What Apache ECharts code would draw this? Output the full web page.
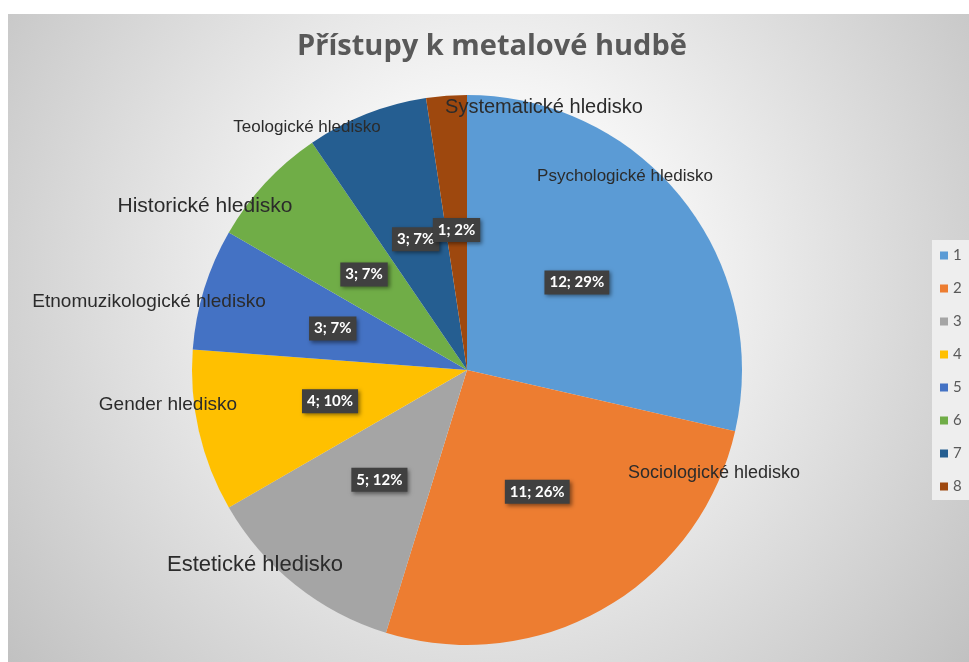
<!DOCTYPE html>
<html>
<head>
<meta charset="utf-8">
<script src="https://cdn.jsdelivr.net/npm/echarts@6/dist/echarts.min.js"></script>
<style>
  html, body { margin: 0; padding: 0; background: #ffffff; }
  #chart { width: 969px; height: 662px; }
</style>
</head>
<body>
<div id="chart"></div>
<script>
// legend entries (Excel shows the row numbers there)
const legendNames = ['1', '2', '3', '4', '5', '6', '7', '8'];
const categories = [
  'Psychologické hledisko',
  'Sociologické hledisko',
  'Estetické hledisko',
  'Gender hledisko',
  'Etnomuzikologické hledisko',
  'Historické hledisko',
  'Teologické hledisko',
  'Systematické hledisko'
];
const counts = [12, 11, 5, 4, 3, 3, 3, 1];

// office palette
const colors = ['#5B9BD5', '#ED7D31', '#A5A5A5', '#FFC000', '#4472C4', '#70AD47', '#255E91', '#9E480E'];

// where the (hand moved) category labels sit, and their size
const nameLabelPos = [[625, 176], [714, 473], [255, 565], [168, 405], [149, 302], [205, 206], [307, 127], [544, 107]];
const nameLabelSize = [17, 18, 22, 19, 19, 21, 17, 20];

const chart = echarts.init(document.getElementById('chart'));

const option = {
  animation: false,
  color: colors,
  title: {
    text: 'Přístupy k metalové hudbě',
    left: 487,
    top: 27,
    textAlign: 'center',
    textStyle: {
      fontFamily: 'Open Sans',
      fontWeight: 'bold',
      fontSize: 29,
      color: '#595959'
    }
  },
  graphic: [
    {
      type: 'rect',
      z: -10,
      silent: true,
      shape: { x: 8, y: 14, width: 961, height: 648 },
      style: {
        fill: new echarts.graphic.RadialGradient(488, 280, 630, [
          { offset: 0, color: '#ffffff' },
          { offset: 0.3, color: '#f5f5f5' },
          { offset: 1, color: '#bfbfbf' }
        ], true)
      }
    }
  ],
  legend: {
    orient: 'vertical',
    left: 932,
    top: 240,
    icon: 'rect',
    itemWidth: 8,
    itemHeight: 8,
    itemGap: 18,
    padding: [8, 12, 6, 8],
    backgroundColor: '#eeeeee',
    data: legendNames,
    textStyle: { color: '#595959', fontSize: 15, fontFamily: 'Lato' }
  },
  series: [
    {
      type: 'pie',
      center: [467, 370],
      radius: 275,
      startAngle: 90,
      clockwise: true,
      avoidLabelOverlap: false,
      minShowLabelAngle: 0,
      data: legendNames.map((n, i) => ({ name: n, value: counts[i] })),
      itemStyle: { borderWidth: 0 },
      label: {
        show: true,
        position: 'inside',
        formatter: (p) => p.value + '; ' + Math.round(p.percent) + '%',
        color: '#ffffff',
        fontFamily: 'Lato',
        fontWeight: 'bold',
        fontSize: 15,
        backgroundColor: '#404040',
        padding: [5, 5, 4, 5],
        shadowColor: 'rgba(0,0,0,0.45)',
        shadowBlur: 4,
        shadowOffsetX: 2,
        shadowOffsetY: 2
      },
      labelLayout: { hideOverlap: false },
      labelLine: { show: false },
      emphasis: { disabled: true }
    },
    {
      // transparent copy, only carries the category name labels
      type: 'pie',
      center: [467, 370],
      radius: 275,
      startAngle: 90,
      silent: true,
      avoidLabelOverlap: false,
      data: legendNames.map((n, i) => ({
        name: n,
        value: counts[i],
        itemStyle: { color: 'rgba(0,0,0,0)' },
        label: { fontSize: nameLabelSize[i] }
      })),
      label: {
        show: true,
        position: 'outside',
        formatter: (p) => categories[p.dataIndex],
        color: '#2b2b2b',
        fontFamily: 'Liberation Sans'
      },
      labelLine: { show: false },
      labelLayout: (p) => ({
        x: nameLabelPos[p.dataIndex][0],
        y: nameLabelPos[p.dataIndex][1],
        align: 'center',
        verticalAlign: 'middle'
      }),
      emphasis: { disabled: true }
    }
  ]
};

chart.setOption(option);
</script>
</body>
</html>
